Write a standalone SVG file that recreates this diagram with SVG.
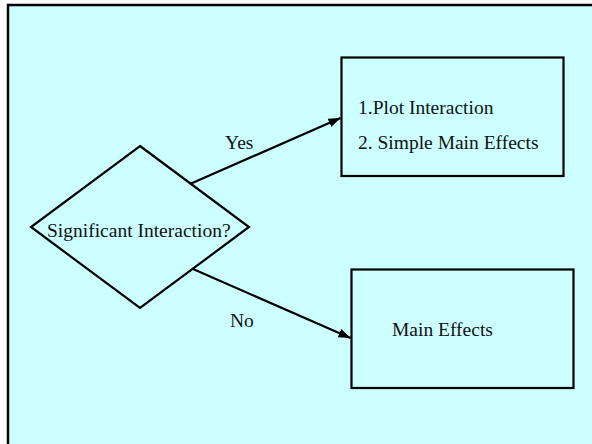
<svg xmlns="http://www.w3.org/2000/svg" width="592" height="444" viewBox="0 0 592 444">
  <style>
    .shape { fill: #CCFFFF; stroke: #000; stroke-width: 2.2; }
    .lbl { font-family: "Liberation Serif", "Times New Roman", serif; font-size: 19.5px; fill: #111; }
    .conn { stroke: #000; stroke-width: 2.2; fill: none; }
  </style>
  <defs>
    <marker id="arrow" markerUnits="userSpaceOnUse" markerWidth="13" markerHeight="10" refX="12" refY="4.5" orient="auto">
      <path d="M0,0 L12,4.5 L0,9 z" fill="#000"/>
    </marker>
  </defs>
  <rect x="0" y="0" width="592" height="444" fill="#fff"/>
  <rect id="frame" x="8" y="5" width="600" height="460" fill="#CCFFFF" stroke="#000" stroke-width="2.5"/>

  <g id="decision">
    <polygon class="shape" points="140,146 249,227 140,308 31,227"/>
    <text class="lbl" x="47" y="236.5">Significant Interaction?</text>
  </g>

  <g id="interaction-box">
    <rect class="shape" x="341.5" y="57.5" width="222" height="118.5"/>
    <text class="lbl" x="358" y="114">1.Plot Interaction</text>
    <text class="lbl" x="358" y="148.5">2. Simple Main Effects</text>
  </g>

  <g id="main-effects-box">
    <rect class="shape" x="351.5" y="269.5" width="222" height="118.5"/>
    <text class="lbl" x="392" y="336">Main Effects</text>
  </g>

  <g id="connectors">
    <line class="conn" x1="190" y1="184" x2="340.5" y2="118" marker-end="url(#arrow)"/>
    <line class="conn" x1="193" y1="269" x2="350.5" y2="338" marker-end="url(#arrow)"/>
    <text class="lbl" x="225" y="149">Yes</text>
    <text class="lbl" x="230" y="327">No</text>
  </g>
</svg>
